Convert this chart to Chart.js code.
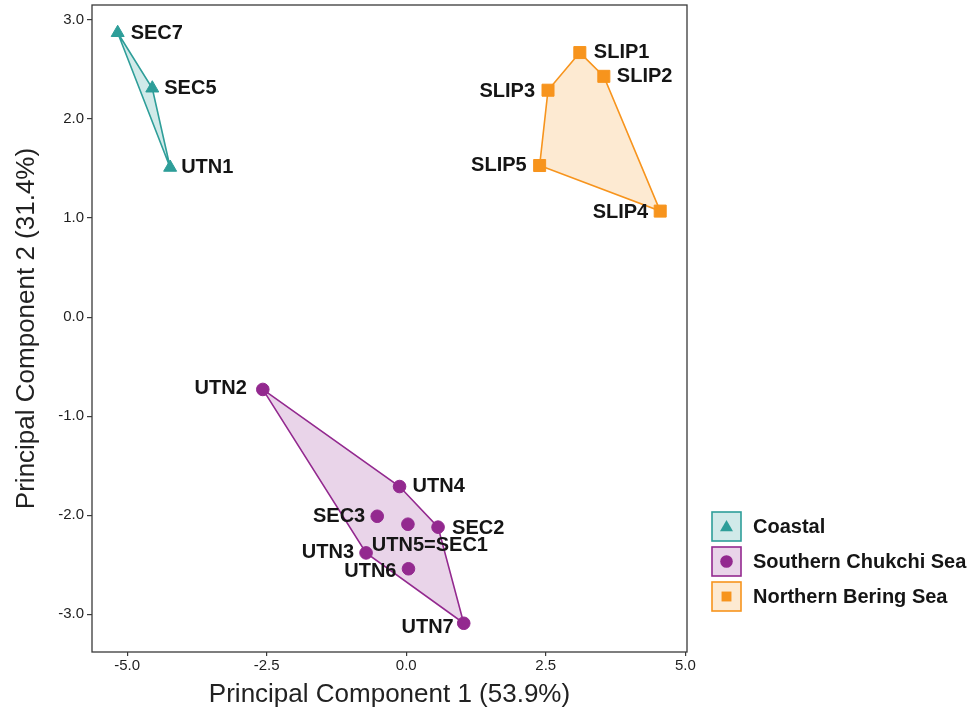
<!DOCTYPE html>
<html><head><meta charset="utf-8">
<script src="https://cdn.jsdelivr.net/npm/chart.js@4.4.0/dist/chart.umd.min.js"></script>
<style>html,body{margin:0;padding:0;background:#fff}#wrap{width:973px;height:710px}</style>
</head><body><div id="wrap"><canvas id="c" width="973" height="710"></canvas></div>
<script>
// ---- data ----
const groupNames = ['Coastal', 'Southern Chukchi Sea', 'Northern Bering Sea'];
const coastalNames = ['SEC7', 'SEC5', 'UTN1'];
const coastalPC1 = [-5.17, -4.55, -4.23];
const coastalPC2 = [2.87, 2.31, 1.51];
const chukchiNames = ['UTN2', 'UTN4', 'SEC3', 'UTN5=SEC1', 'SEC2', 'UTN3', 'UTN6', 'UTN7'];
const chukchiPC1 = [-2.57, -0.12, -0.52, 0.03, 0.57, -0.72, 0.04, 1.03];
const chukchiPC2 = [-0.73, -1.71, -2.01, -2.09, -2.12, -2.38, -2.54, -3.09];
const beringNames = ['SLIP1', 'SLIP2', 'SLIP3', 'SLIP5', 'SLIP4'];
const beringPC1 = [3.11, 3.54, 2.54, 2.39, 4.55];
const beringPC2 = [2.67, 2.43, 2.29, 1.53, 1.07];
// convex hull vertex order (indices into each group)
const coastalHull = [0, 1, 2];
const chukchiHull = [0, 1, 4, 7, 5];
const beringHull = [0, 1, 4, 3, 2];
const xTickValues = [-5, -2.5, 0, 2.5, 5];
const yTickValues = [-3, -2, -1, 0, 1, 2, 3];
const xTitle = 'Principal Component 1 (53.9%)';
const yTitle = 'Principal Component 2 (31.4%)';

// ---- styles ----
const FONT = '"Liberation Sans", Arial, Helvetica, sans-serif';
const groupStyle = [
  {color: '#2E9E99', fill: 'rgba(46,158,153,0.22)', point: 'triangle', radius: 7.5, legendRadius: 7.5},
  {color: '#93298F', fill: 'rgba(147,41,143,0.20)', point: 'circle', radius: 6.3, legendRadius: 6.3},
  {color: '#F7941D', fill: 'rgba(247,148,29,0.20)', point: 'rect', radius: 8.5, legendRadius: 7}
];
// label placement: [side, dx, dy]
const labelPlace = {
  'SEC7': ['left', 13, 1], 'SEC5': ['left', 12, 0], 'UTN1': ['left', 11, 0],
  'SLIP1': ['left', 14, 0], 'SLIP2': ['left', 13, 0], 'SLIP3': ['right', -13, 1],
  'SLIP5': ['right', -13, 0], 'SLIP4': ['right', -12, 1],
  'UTN2': ['right', -16, -1], 'UTN4': ['left', 13, 0], 'SEC3': ['right', -12, 0],
  'UTN5=SEC1': ['center', 22, 21], 'SEC2': ['left', 14, 1], 'UTN3': ['right', -12, 0],
  'UTN6': ['right', -12, 3], 'UTN7': ['right', -10, 4]
};

function pts(xs, ys) { return xs.map((x, i) => ({x: x, y: ys[i]})); }
function hull(xs, ys, order) { const o = order.concat([order[0]]); return o.map(i => ({x: xs[i], y: ys[i]})); }

const groups = [
  {names: coastalNames, x: coastalPC1, y: coastalPC2, hull: coastalHull},
  {names: chukchiNames, x: chukchiPC1, y: chukchiPC2, hull: chukchiHull},
  {names: beringNames, x: beringPC1, y: beringPC2, hull: beringHull}
];

const datasets = [];
groups.forEach((g, i) => {
  const s = groupStyle[i];
  datasets.push({
    type: 'scatter', label: groupNames[i], data: pts(g.x, g.y), names: g.names,
    pointStyle: s.point, pointRadius: s.radius, backgroundColor: s.color, borderColor: s.color,
    pointBorderWidth: 1, order: 0, isPoints: true
  });
});
groups.forEach((g, i) => {
  const s = groupStyle[i];
  datasets.push({
    type: 'line', label: groupNames[i] + ' hull', data: hull(g.x, g.y, g.hull),
    borderColor: s.color, backgroundColor: s.fill, borderWidth: 1.6, pointRadius: 0,
    tension: 0, fill: 'shape', order: 5
  });
});

const framePlugin = {
  id: 'frame',
  afterDatasetsDraw(chart) {
    const a = chart.chartArea, ctx = chart.ctx;
    ctx.save();
    ctx.strokeStyle = '#3a3a3a'; ctx.lineWidth = 1.3;
    ctx.strokeRect(a.left, a.top, a.right - a.left, a.bottom - a.top);
    ctx.restore();
  }
};

const labelPlugin = {
  id: 'labels',
  afterDatasetsDraw(chart) {
    const ctx = chart.ctx;
    ctx.save();
    ctx.font = 'bold 20px ' + FONT;
    ctx.fillStyle = '#151515';
    ctx.textBaseline = 'middle';
    chart.data.datasets.forEach((ds, di) => {
      if (!ds.isPoints) return;
      const meta = chart.getDatasetMeta(di);
      meta.data.forEach((el, i) => {
        const name = ds.names[i];
        const p = labelPlace[name] || ['left', 12, 0];
        ctx.textAlign = p[0];
        ctx.fillText(name, el.x + p[1], el.y + p[2]);
      });
    });
    ctx.restore();
  }
};

const legendPlugin = {
  id: 'customLegend',
  afterDraw(chart) {
    const ctx = chart.ctx;
    ctx.save();
    groupNames.forEach((name, i) => {
      const s = groupStyle[i];
      const bx = 712, by = 512 + 35 * i, bw = 29, bh = 29;
      ctx.fillStyle = '#ffffff';
      ctx.fillRect(bx, by, bw, bh);
      ctx.fillStyle = s.fill;
      ctx.fillRect(bx, by, bw, bh);
      ctx.strokeStyle = s.color; ctx.lineWidth = 1.6;
      ctx.strokeRect(bx, by, bw, bh);
      ctx.fillStyle = s.color; ctx.strokeStyle = s.color;
      Chart.helpers.drawPoint(ctx, {pointStyle: s.point, radius: s.legendRadius, borderWidth: 0, rotation: 0}, bx + bw / 2, by + bh / 2 + (s.point === 'triangle' ? 1 : 0));
      ctx.fillStyle = '#151515';
      ctx.font = 'bold 20px ' + FONT;
      ctx.textAlign = 'left'; ctx.textBaseline = 'middle';
      ctx.fillText(name, 753, by + bh / 2 + 1);
    });
    ctx.restore();
  }
};

const tickColor = '#3a3a3a';
new Chart(document.getElementById('c'), {
  data: {datasets: datasets},
  options: {
    responsive: false, animation: false, devicePixelRatio: 1,
    layout: {autoPadding: false, padding: {left: 0, right: 286, top: 5, bottom: 0}},
    plugins: {legend: {display: false}, tooltip: {enabled: false}},
    scales: {
      x: {
        type: 'linear', position: 'bottom', min: -5.63, max: 5.03,
        afterBuildTicks: s => { s.ticks = xTickValues.map(v => ({value: v})); },
        afterFit: s => { s.height = 58; s.paddingLeft = 0; s.paddingRight = 0; },
        grid: {display: true, drawOnChartArea: false, drawTicks: true, tickLength: 4, color: tickColor, lineWidth: 1.2},
        border: {display: false},
        ticks: {color: '#1e1e1e', font: {family: FONT, size: 15}, padding: 1, maxRotation: 0,
                callback: v => v.toFixed(1)},
        title: {display: true, text: xTitle, color: '#222', font: {family: FONT, size: 26}, padding: {top: 0, bottom: 0}}
      },
      y: {
        type: 'linear', position: 'left', min: -3.38, max: 3.15,
        afterBuildTicks: s => { s.ticks = yTickValues.map(v => ({value: v})); },
        afterFit: s => { s.width = 92; s.paddingTop = 0; s.paddingBottom = 0; },
        grid: {display: true, drawOnChartArea: false, drawTicks: true, tickLength: 5, color: tickColor, lineWidth: 1.2},
        border: {display: false},
        ticks: {color: '#1e1e1e', font: {family: FONT, size: 15}, padding: 3,
                callback: v => v.toFixed(1)},
        title: {display: true, text: yTitle, color: '#222', font: {family: FONT, size: 26}, padding: {top: 11, bottom: 0}}
      }
    }
  },
  plugins: [framePlugin, labelPlugin, legendPlugin]
});
</script></body></html>
